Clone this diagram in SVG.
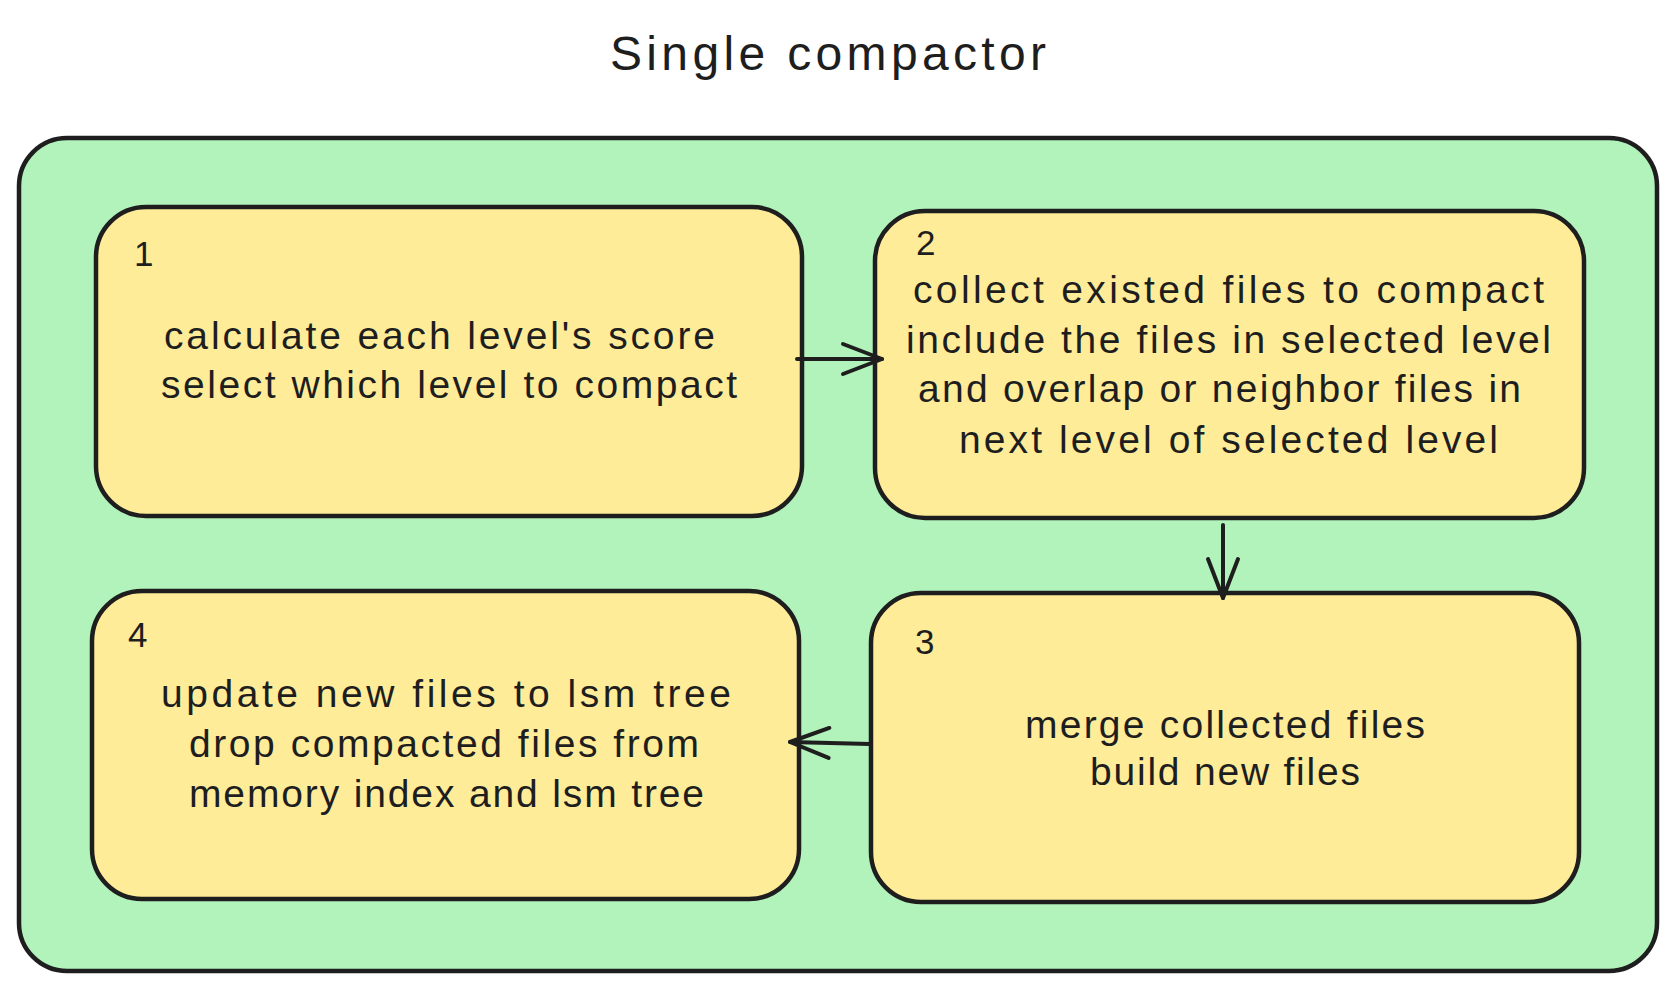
<svg xmlns="http://www.w3.org/2000/svg" width="1678" height="991" viewBox="0 0 1678 991">
<style>
.bg{fill:#ffffff}
.container{fill:#b2f2bb;stroke:#1e1e1e;stroke-width:4.5}
.box{fill:#ffec99;stroke:#1e1e1e;stroke-width:4.5}
.t{font-family:"Liberation Sans",Arial,sans-serif;font-size:39px;fill:#1e1e1e}
.num{font-family:"Liberation Sans",Arial,sans-serif;font-size:35px;fill:#1e1e1e}
.title{font-family:"Liberation Sans",Arial,sans-serif;font-size:48px;fill:#1e1e1e}
.conn{fill:none;stroke:#1e1e1e;stroke-width:4;stroke-linecap:round;stroke-linejoin:round}
</style>
<defs>
<marker id="arr" markerUnits="userSpaceOnUse" markerWidth="46" markerHeight="36" refX="41" refY="17" orient="auto" overflow="visible">
<path d="M2,2 L41,17 L2,32" fill="none" stroke="#1e1e1e" stroke-width="4" stroke-linecap="round" stroke-linejoin="round"/>
</marker>
</defs>
<rect class="bg" x="0" y="0" width="1678" height="991"/>
<g id="title">
<text class="title" x="610" y="70" textLength="436" lengthAdjust="spacing">Single compactor</text>
</g>
<g id="container">
<rect class="container" x="19" y="138" width="1638" height="833" rx="48" ry="48"/>
</g>
<g id="node1">
<rect class="box" x="96" y="207" width="706" height="309" rx="50" ry="50"/>
<text class="num" x="134" y="266">1</text>
<text class="t" x="164" y="349" textLength="551" lengthAdjust="spacing">calculate each level's score</text>
<text class="t" x="161" y="398" textLength="576" lengthAdjust="spacing">select which level to compact</text>
</g>
<g id="node2">
<rect class="box" x="875" y="211" width="709" height="307" rx="50" ry="50"/>
<text class="num" x="916" y="255">2</text>
<text class="t" x="913" y="303" textLength="631" lengthAdjust="spacing">collect existed files to compact</text>
<text class="t" x="906" y="353" textLength="645" lengthAdjust="spacing">include the files in selected level</text>
<text class="t" x="918" y="402" textLength="603" lengthAdjust="spacing">and overlap or neighbor files in</text>
<text class="t" x="959" y="453" textLength="539" lengthAdjust="spacing">next level of selected level</text>
</g>
<g id="node3">
<rect class="box" x="871" y="593" width="708" height="309" rx="50" ry="50"/>
<text class="num" x="915" y="654">3</text>
<text class="t" x="1025" y="738" textLength="400" lengthAdjust="spacing">merge collected files</text>
<text class="t" x="1090" y="785" textLength="270" lengthAdjust="spacing">build new files</text>
</g>
<g id="node4">
<rect class="box" x="92" y="591" width="707" height="308" rx="50" ry="50"/>
<text class="num" x="128" y="647">4</text>
<text class="t" x="161" y="707" textLength="570" lengthAdjust="spacing">update new files to lsm tree</text>
<text class="t" x="189" y="757" textLength="510" lengthAdjust="spacing">drop compacted files from</text>
<text class="t" x="189" y="807" textLength="515" lengthAdjust="spacing">memory index and lsm tree</text>
</g>
<g id="connectors">
<path class="conn" d="M797,359 L882,359" marker-end="url(#arr)"/>
<path class="conn" d="M1223,525 L1223,598" marker-end="url(#arr)"/>
<path class="conn" d="M870,744 L790,742" marker-end="url(#arr)"/>
</g>
</svg>
